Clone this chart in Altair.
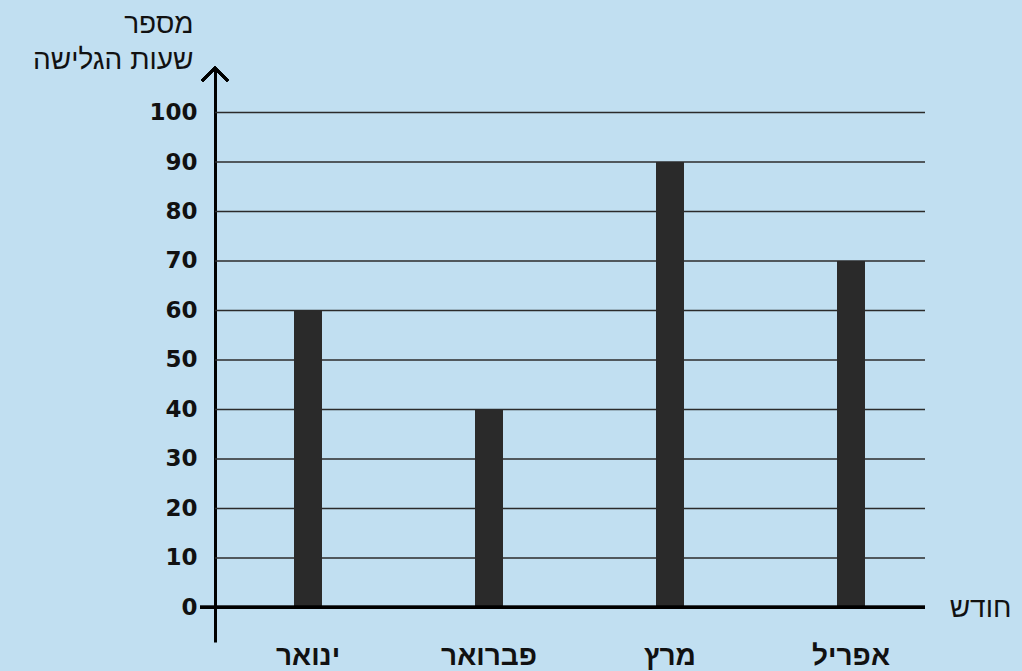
import altair as alt
import pandas as pd

months = ["ינואר", "פברואר", "מרץ", "אפריל"]
hours = [60, 40, 90, 70]
y_ticks = [0, 10, 20, 30, 40, 50, 60, 70, 80, 90, 100]
y_title = ["מספר", "שעות הגלישה"]
x_title = "חודש"

df = pd.DataFrame({"month": months, "hours": hours})
grid_df = pd.DataFrame({"v": y_ticks[1:]})

HEB = "Liberation Sans"

x_enc = alt.X(
    "month:N",
    sort=months,
    scale=alt.Scale(range=[2.5, 726.5], paddingInner=0, paddingOuter=0),
    axis=alt.Axis(
        orient="bottom", domain=False, ticks=False, grid=False,
        labelFont=HEB, labelFontWeight="bold", labelFontSize=28,
        labelColor="#111", labelPadding=0, labelAngle=0,
        title=x_title, titleFont=HEB, titleFontWeight="normal",
        titleFontSize=28, titleColor="#111", titleX=765, titleY=-34,
        titleAlign="center", titleBaseline="middle", titleAngle=0,
    ),
)

y_scale = alt.Scale(domain=[-7, 109], nice=False, zero=False)

y_enc = alt.Y(
    "hours:Q",
    scale=y_scale,
    axis=alt.Axis(
        values=y_ticks, domain=True, domainColor="#000", domainWidth=3,
        ticks=False, grid=False,
        labelFont="DejaVu Sans", labelFontWeight="bold", labelFontSize=23,
        labelColor="#111", labelPadding=18,
        title=y_title, titleFont=HEB, titleFontWeight="normal",
        titleFontSize=28, titleColor="#111", titleAngle=0, titleAlign="right",
        titleBaseline="top", titleX=-22, titleY=-58, titleLineHeight=36,
    ),
)

grid = alt.Chart(grid_df).mark_rule(color="#2b2b2b", strokeWidth=1.5).encode(
    x=alt.value(0), x2=alt.value(710), y=alt.Y("v:Q", scale=y_scale)
)

bars = alt.Chart(df).mark_bar(color="#2a2a2a", size=28).encode(x=x_enc, y=y_enc)

zero_line = alt.Chart(df).mark_rule(color="#000", strokeWidth=3).encode(
    x=alt.value(-15), x2=alt.value(710), y=alt.Y(datum=0, scale=y_scale)
)

arrow = alt.Chart(df).mark_point(
    shape="M-1,1L0,0L1,1", filled=False, stroke="#000", strokeWidth=3, size=676, opacity=1
).encode(x=alt.value(0), y=alt.Y(datum=109, scale=y_scale))

chart = alt.layer(grid, bars, zero_line, arrow).properties(
    width=710, height=574,
    autosize=alt.AutoSizeParams(type="none"),
    padding={"left": 215, "top": 68, "right": 97, "bottom": 29},
    background="#c1dff1",
).configure_view(stroke=None)

chart.save("out.html", embed_options={"renderer": "svg", "actions": False})
